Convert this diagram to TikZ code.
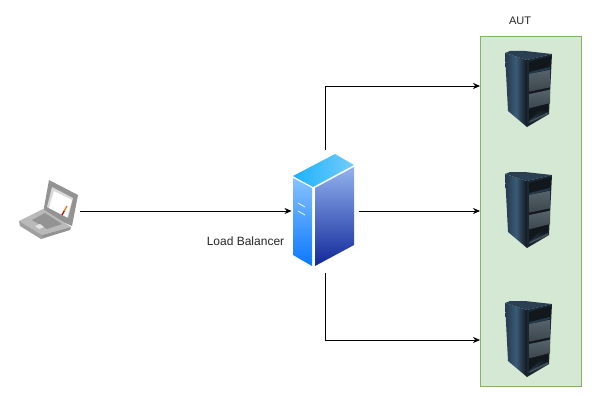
\documentclass[tikz,border=0pt]{standalone}
\usepackage{fontspec}
\setmainfont{Liberation Sans}
\usetikzlibrary{arrows.meta}
\definecolor{autfill}{HTML}{D5E8D4}
\definecolor{autline}{HTML}{82B366}
\definecolor{rackdark}{HTML}{12171C}
\definecolor{rackblue}{HTML}{3A5B76}
\definecolor{rackedge}{HTML}{24394C}
\definecolor{racktop}{HTML}{2B3F52}
\definecolor{rackslot}{HTML}{56636C}
\definecolor{lbtopa}{HTML}{1CB2FF}
\definecolor{lbtopb}{HTML}{74CCF9}
\definecolor{lblefta}{HTML}{86C2FF}
\definecolor{lbleftb}{HTML}{0A78FF}
\definecolor{lbrighta}{HTML}{92B2EE}
\definecolor{lbrightb}{HTML}{10289A}
\tikzset{
	link/.style={-{Stealth[length=7pt,width=6pt]},line width=0.6pt},
	spot/.style={inner sep=0pt,outer sep=0pt},
	caption/.style={text=black!85},
	rackicon/.pic={
		\shade[left color=rackedge,right color=rackdark,middle color=rackblue] (-24,-38) -- (-2,-31) -- (-2,36) -- (-21,20) -- cycle;
		\fill[racktop] (-24,-38) -- (-19,-40) -- (-4,-40) -- (23,-37) -- (-2,-31) -- cycle;
		\fill[rackedge!70!black] (-2,-31) -- (23,-37) -- (20,23) -- (-2,36) -- cycle;
		\fill[rackdark] (0,-29) -- (22,-35) -- (19,22) -- (0,33) -- cycle;
		\fill[rackedge] (0.3,-19) -- (21,-24) -- (21,-22) -- (0.3,-17) -- cycle;
		\shade[top color=rackslot,bottom color=rackslot!70!black] (0.3,-17) -- (21,-21.3) -- (21,-3.7) -- (0.3,0.7) -- cycle;
		\shade[top color=rackslot,bottom color=rackslot!70!black] (0.3,3) -- (21,-1.3) -- (21,12) -- (0.3,17.3) -- cycle;
		\shade[top color=rackdark,bottom color=rackedge] (0.3,29.7) -- (12,18) -- (19.3,21) -- cycle;
		\fill[rackslot!80!black] (0.3,30) -- (19.3,21) -- (19.3,23) -- (0.3,32) -- cycle;
	},
}
\begin{document}
\begin{tikzpicture}[x=1pt,y=-1pt]
	\useasboundingbox (0,0) rectangle (612,412);
	\fill[white] (0,0) rectangle (612,412);
	% test bed
	\node[spot,draw=autline,fill=autfill,line width=0.7pt,minimum width=101pt,minimum height=350pt] (aut) at (530.5,211) {};
	\node[caption,font=\fontsize{11}{13}\selectfont] (autlabel) at (520,21) {AUT};
	\node[spot,minimum width=100pt,minimum height=80pt] (rackone) at (530,86) {};
	\node[spot,minimum width=100pt,minimum height=80pt] (racktwo) at (530,211) {};
	\node[spot,minimum width=100pt,minimum height=80pt] (rackthree) at (530,340) {};
	\pic at (529,91) {rackicon};
	\pic at (529,212) {rackicon};
	\pic at (529,341) {rackicon};
	% laptop
	\node[spot,minimum width=60pt,minimum height=62pt] (laptop) at (50,211) {};
	\fill[gray!85] (49,180) -- (78,195) -- (72,226) -- (43,213) -- cycle;
	\fill[gray!30] (52,187) -- (73,198) -- (68,218) -- (47,207) -- cycle;
	\fill[white] (54,191) -- (72,200) -- (67,217) -- (49,208) -- cycle;
	\draw[red!75!black,line width=1.3pt] (62,215) -- (64.5,210.5);
	\draw[orange!90!red,line width=1.3pt] (64.5,210.5) -- (67,206);
	\fill[gray!55] (19,221) -- (43,209) -- (71,227) -- (42,235) -- cycle;
	\fill[gray!75] (19,221) -- (42,235) -- (41,239) -- (20,226) -- cycle;
	\fill[gray!85] (42,235) -- (71,227) -- (70,230) -- (41,239) -- cycle;
	\fill[gray!85] (32,220) -- (45,213) -- (62,224) -- (47,229) -- cycle;
	\fill[gray!20] (35,226) -- (40,224) -- (44,227) -- (39,229) -- cycle;
	% load balancer
	\node[spot,minimum width=67pt,minimum height=123pt] (balancer) at (325,211) {};
	\shade[left color=lbtopa,right color=lbtopb] (293,176) -- (335,154) -- (354,165) -- (313,187) -- cycle;
	\shade[top color=lblefta,bottom color=lbleftb] (293,178) -- (312,188) -- (312,266) -- (293,255) -- cycle;
	\shade[top color=lbrighta,bottom color=lbrightb] (315,188) -- (354,167) -- (354,245) -- (315,266) -- cycle;
	\draw[white,line width=0.7pt] (298,203) -- (305,207) (298,211) -- (305,215);
	\node[caption,font=\fontsize{12}{14}\selectfont] (lblabel) at (245.5,241) {Load Balancer};
	% connectors
	\draw[link] (laptop.east) -- (balancer.west);
	\draw[link] (balancer.north) |- (rackone.west);
	\draw[link] (balancer.east) -- (racktwo.west);
	\draw[link] (balancer.south) |- (rackthree.west);
\end{tikzpicture}
\end{document}
